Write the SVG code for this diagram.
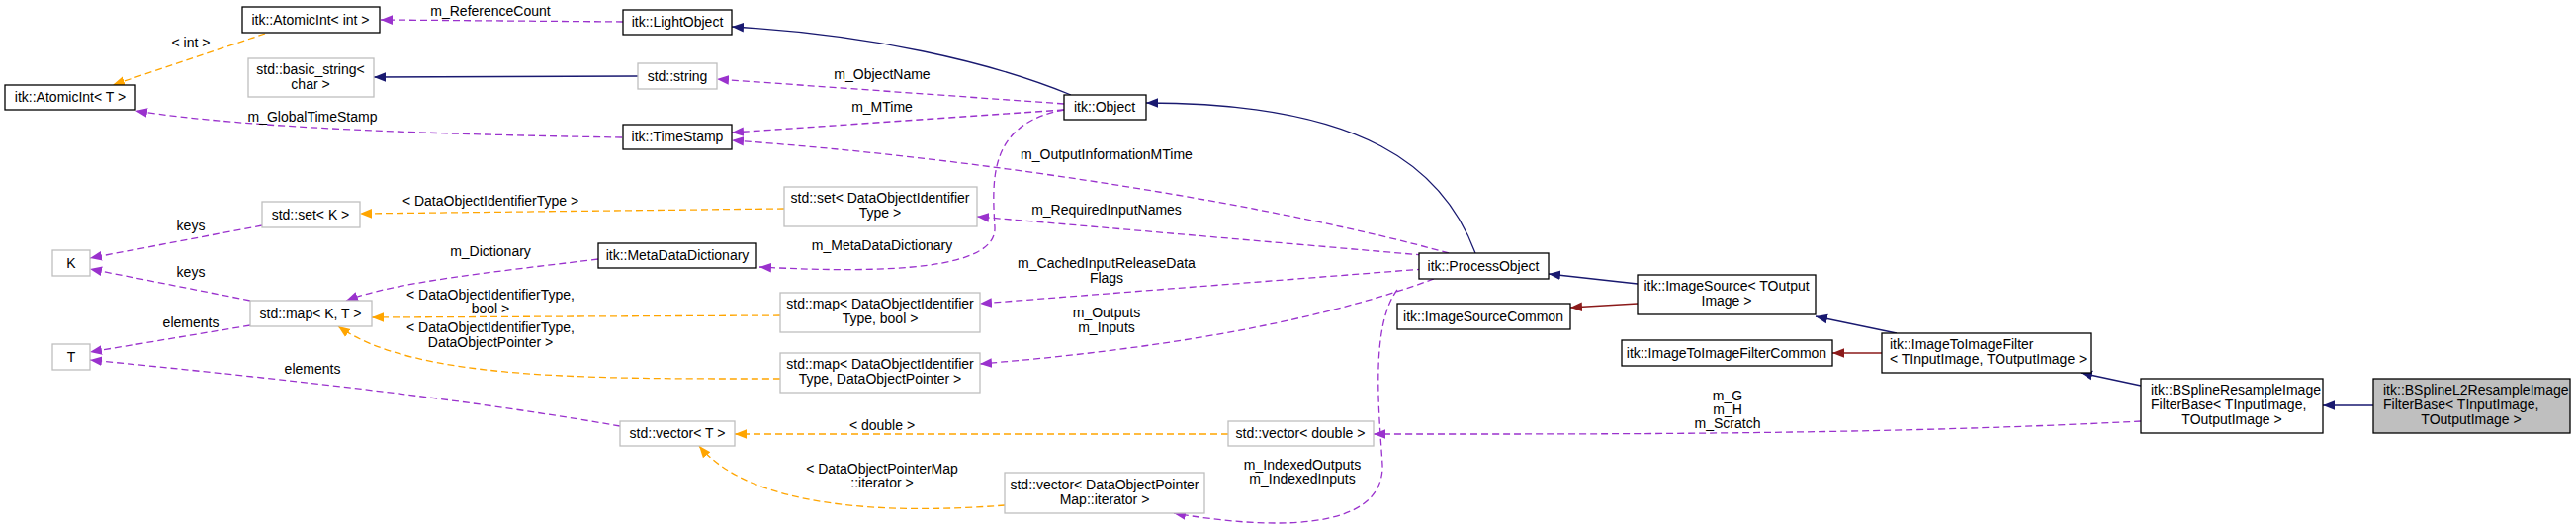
<svg xmlns="http://www.w3.org/2000/svg" width="2605" height="537" viewBox="0 0 2605 537">
<style>
text{font-family:"Liberation Sans",Arial,sans-serif;font-size:14px;fill:#000}
.n rect{fill:#fff;stroke:#000;stroke-width:1.3}
.g rect{fill:#fff;stroke:#bfbfbf;stroke-width:1.3}
.c{text-anchor:middle}
.e path{fill:none;stroke-width:1.3}
.p{stroke:#9a32cd;stroke-dasharray:7,4;marker-end:url(#mp)}
.o{stroke:#ffa500;stroke-dasharray:7,4;marker-end:url(#mo)}
.b{stroke:#191970;marker-end:url(#mb)}
.r{stroke:#8b1a1a;marker-end:url(#mr)}
</style>
<defs>
<marker id="mp" viewBox="0 0 10 10" refX="10" refY="5" markerWidth="12" markerHeight="12" markerUnits="userSpaceOnUse" orient="auto"><path d="M0,1L10,5L0,9z" fill="#9a32cd"/></marker>
<marker id="mo" viewBox="0 0 10 10" refX="10" refY="5" markerWidth="12" markerHeight="12" markerUnits="userSpaceOnUse" orient="auto"><path d="M0,1L10,5L0,9z" fill="#ffa500"/></marker>
<marker id="mb" viewBox="0 0 10 10" refX="10" refY="5" markerWidth="12" markerHeight="12" markerUnits="userSpaceOnUse" orient="auto"><path d="M0,1L10,5L0,9z" fill="#191970"/></marker>
<marker id="mr" viewBox="0 0 10 10" refX="10" refY="5" markerWidth="12" markerHeight="12" markerUnits="userSpaceOnUse" orient="auto"><path d="M0,1L10,5L0,9z" fill="#8b1a1a"/></marker>
</defs>
<rect width="2605" height="537" fill="#fff"/>
<g id="edges" class="e">
<path class="p" d="M630,22 L385,20"/>
<path class="o" d="M268,34 L114,86"/>
<path class="b" d="M645,77 L378,78"/>
<path class="p" d="M629,139 C450,136 250,130 137,112"/>
<path class="b" d="M1083,96 C1000,62 880,35 740,27"/>
<path class="p" d="M1076,105 L725,80"/>
<path class="p" d="M1076,111 L740,134"/>
<path class="p" d="M1465,256 C1300,210 1000,160 740,142"/>
<path class="b" d="M1492,256 C1460,170 1380,104 1159,104"/>
<path class="p" d="M1450,259 L988,219"/>
<path class="p" d="M1076,111 C1000,125 1003,180 1006,230 C1008,272 900,277 768,270"/>
<path class="p" d="M1440,272 L991,307"/>
<path class="p" d="M1450,282 C1320,330 1150,355 991,368"/>
<path class="p" d="M1413,293 C1385,330 1395,420 1398,470 C1400,540 1280,535 1187,519"/>
<path class="p" d="M2165,426 C1900,440 1600,439 1389,439"/>
<path class="b" d="M1656,287 L1566,277"/>
<path class="r" d="M1656,307 L1588,311"/>
<path class="b" d="M1918,337 L1836,320"/>
<path class="r" d="M1903,357 L1853,357"/>
<path class="b" d="M2165,390 L2104,377"/>
<path class="b" d="M2400,410 L2349,410"/>
<path class="o" d="M793,211 L364,216"/>
<path class="p" d="M265,228 L91,261"/>
<path class="p" d="M253,304 L91,272"/>
<path class="p" d="M253,329 L91,356"/>
<path class="p" d="M605,262 C500,275 400,285 350,304"/>
<path class="o" d="M789,319 L376,321"/>
<path class="o" d="M789,383 C600,383 420,385 342,330"/>
<path class="p" d="M627,431 C450,400 250,380 91,364"/>
<path class="o" d="M1242,439 L743,439"/>
<path class="o" d="M1016,511 C900,520 760,515 707,451"/>
</g>
<g id="labels">
<text class="c" x="496" y="16">m_ReferenceCount</text>
<text class="c" x="193" y="48">&lt; int &gt;</text>
<text class="c" x="316" y="123">m_GlobalTimeStamp</text>
<text class="c" x="892" y="80">m_ObjectName</text>
<text class="c" x="892" y="113">m_MTime</text>
<text class="c" x="1119" y="161">m_OutputInformationMTime</text>
<text class="c" x="1119" y="217">m_RequiredInputNames</text>
<text class="c" x="892" y="253">m_MetaDataDictionary</text>
<text class="c" x="1119" y="271">m_CachedInputReleaseData</text>
<text class="c" x="1119" y="286">Flags</text>
<text class="c" x="1119" y="321">m_Outputs</text>
<text class="c" x="1119" y="336">m_Inputs</text>
<text class="c" x="1317" y="475">m_IndexedOutputs</text>
<text class="c" x="1317" y="489">m_IndexedInputs</text>
<text class="c" x="1747" y="405">m_G</text>
<text class="c" x="1747" y="419">m_H</text>
<text class="c" x="1747" y="433">m_Scratch</text>
<text class="c" x="496" y="208">&lt; DataObjectIdentifierType &gt;</text>
<text class="c" x="193" y="233">keys</text>
<text class="c" x="193" y="280">keys</text>
<text class="c" x="193" y="331">elements</text>
<text class="c" x="496" y="259">m_Dictionary</text>
<text class="c" x="496" y="303">&lt; DataObjectIdentifierType,</text>
<text class="c" x="496" y="317">bool &gt;</text>
<text class="c" x="496" y="336">&lt; DataObjectIdentifierType,</text>
<text class="c" x="496" y="351">DataObjectPointer &gt;</text>
<text class="c" x="316" y="378">elements</text>
<text class="c" x="892" y="435">&lt; double &gt;</text>
<text class="c" x="892" y="479">&lt; DataObjectPointerMap</text>
<text class="c" x="892" y="493">::iterator &gt;</text>
</g>
<g id="n_atomicint" class="n"><rect x="245" y="7" width="139" height="26"/><text class="c" x="314" y="25">itk::AtomicInt&lt; int &gt;</text></g>
<g id="n_atomicT" class="n"><rect x="5" y="86" width="132" height="25"/><text class="c" x="71" y="103">itk::AtomicInt&lt; T &gt;</text></g>
<g id="n_basicstring" class="g"><rect x="251" y="59" width="127" height="39"/><text class="c" x="314" y="75">std::basic_string&lt;</text><text class="c" x="314" y="90">char &gt;</text></g>
<g id="n_lightobject" class="n"><rect x="630" y="10" width="110" height="25"/><text class="c" x="685" y="27">itk::LightObject</text></g>
<g id="n_string" class="g"><rect x="645" y="64" width="80" height="26"/><text class="c" x="685" y="82">std::string</text></g>
<g id="n_timestamp" class="n"><rect x="630" y="126" width="110" height="25"/><text class="c" x="685" y="143">itk::TimeStamp</text></g>
<g id="n_object" class="n"><rect x="1076" y="96" width="83" height="25"/><text class="c" x="1117" y="113">itk::Object</text></g>
<g id="n_setK" class="g"><rect x="265" y="204" width="99" height="26"/><text class="c" x="314" y="222">std::set&lt; K &gt;</text></g>
<g id="n_K" class="g"><rect x="53" y="253" width="38" height="26"/><text class="c" x="72" y="271">K</text></g>
<g id="n_mapKT" class="g"><rect x="253" y="304" width="123" height="26"/><text class="c" x="314" y="322">std::map&lt; K, T &gt;</text></g>
<g id="n_T" class="g"><rect x="53" y="348" width="38" height="26"/><text class="c" x="72" y="366">T</text></g>
<g id="n_mdd" class="n"><rect x="605" y="246" width="160" height="25"/><text class="c" x="685" y="263">itk::MetaDataDictionary</text></g>
<g id="n_setdoit" class="g"><rect x="793" y="189" width="195" height="40"/><text class="c" x="890" y="205">std::set&lt; DataObjectIdentifier</text><text class="c" x="890" y="220">Type &gt;</text></g>
<g id="n_mapbool" class="g"><rect x="789" y="296" width="202" height="40"/><text class="c" x="890" y="312">std::map&lt; DataObjectIdentifier</text><text class="c" x="890" y="327">Type, bool &gt;</text></g>
<g id="n_mapptr" class="g"><rect x="789" y="357" width="202" height="40"/><text class="c" x="890" y="373">std::map&lt; DataObjectIdentifier</text><text class="c" x="890" y="388">Type, DataObjectPointer &gt;</text></g>
<g id="n_vectorT" class="g"><rect x="627" y="426" width="116" height="25"/><text class="c" x="685" y="443">std::vector&lt; T &gt;</text></g>
<g id="n_vectordouble" class="g"><rect x="1242" y="426" width="147" height="25"/><text class="c" x="1315" y="443">std::vector&lt; double &gt;</text></g>
<g id="n_vectoriter" class="g"><rect x="1016" y="478" width="202" height="41"/><text class="c" x="1117" y="495">std::vector&lt; DataObjectPointer</text><text class="c" x="1117" y="510">Map::iterator &gt;</text></g>
<g id="n_processobject" class="n"><rect x="1435" y="256" width="131" height="26"/><text class="c" x="1500" y="274">itk::ProcessObject</text></g>
<g id="n_imagesourcecommon" class="n"><rect x="1413" y="307" width="175" height="26"/><text class="c" x="1500" y="325">itk::ImageSourceCommon</text></g>
<g id="n_imagesource" class="n"><rect x="1656" y="278" width="180" height="40"/><text class="c" x="1746" y="294">itk::ImageSource&lt; TOutput</text><text class="c" x="1746" y="309">Image &gt;</text></g>
<g id="n_i2icommon" class="n"><rect x="1640" y="344" width="213" height="26"/><text class="c" x="1746" y="362">itk::ImageToImageFilterCommon</text></g>
<g id="n_i2i" class="n"><rect x="1903" y="337" width="212" height="40"/><text x="1911" y="353">itk::ImageToImageFilter</text><text x="1911" y="368">&lt; TInputImage, TOutputImage &gt;</text></g>
<g id="n_bsplinebase" class="n"><rect x="2165" y="383" width="184" height="55"/><text x="2175" y="399">itk::BSplineResampleImage</text><text x="2175" y="414">FilterBase&lt; TInputImage,</text><text class="c" x="2257" y="429">TOutputImage &gt;</text></g>
<g id="n_bsplinel2" class="n"><rect x="2400" y="383" width="199" height="55" style="fill:#bfbfbf"/><text x="2410" y="399">itk::BSplineL2ResampleImage</text><text x="2410" y="414">FilterBase&lt; TInputImage,</text><text class="c" x="2499" y="429">TOutputImage &gt;</text></g>
</svg>
